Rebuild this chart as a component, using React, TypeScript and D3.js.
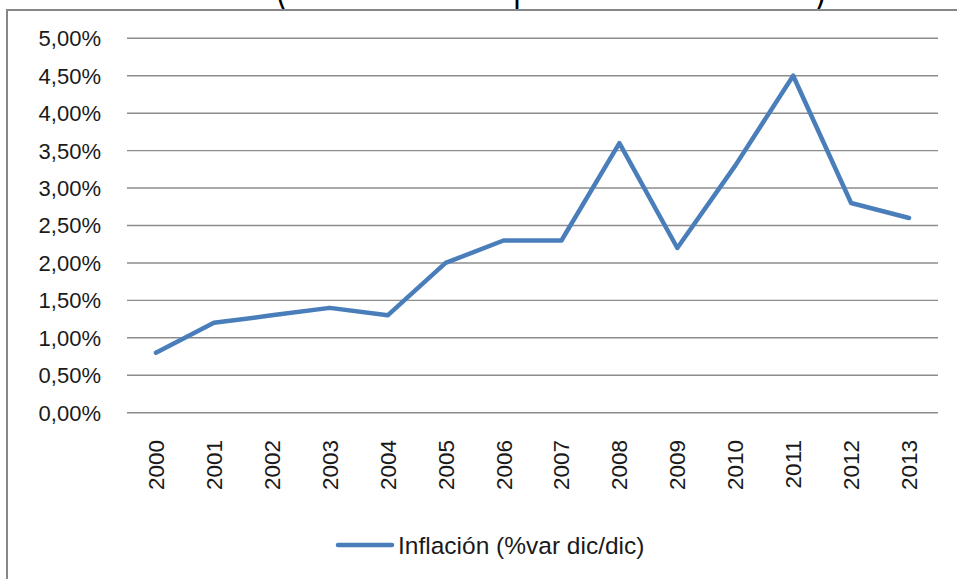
import React, { useEffect, useRef } from "react";
import * as d3 from "d3";

const years = ["2000","2001","2002","2003","2004","2005","2006","2007","2008","2009","2010","2011","2012","2013"];
const inflation = [0.8, 1.2, 1.3, 1.4, 1.3, 2.0, 2.3, 2.3, 3.6, 2.2, 3.3, 4.5, 2.8, 2.6];
const yTicks = [0, 0.5, 1, 1.5, 2, 2.5, 3, 3.5, 4, 4.5, 5];
const seriesName = "Inflación (%var dic/dic)";
const titleText = "(Variación de los precios al consumidor)";

const W = 957;
const H = 579;

export default function App() {
  const ref = useRef<SVGSVGElement>(null);

  useEffect(() => {
    const svg = d3.select(ref.current);
    svg.selectAll("*").remove();

    const font = "'Liberation Sans', Arial, sans-serif";

    // Title (cut off at the top, as in the reference: only descenders visible)
    svg.append("text")
      .attr("x", 275)
      .attr("y", -1.5)
      .attr("font-family", font)
      .attr("font-size", 54)
      .attr("fill", "#000")
      .attr("textLength", 552)
      .attr("lengthAdjust", "spacingAndGlyphs")
      .text(titleText);

    // Chart frame
    svg.append("rect")
      .attr("x", 7)
      .attr("y", 10)
      .attr("width", W + 20)
      .attr("height", H + 20)
      .attr("fill", "none")
      .attr("stroke", "#878787")
      .attr("stroke-width", 2);

    const x = d3.scalePoint<string>().domain(years).range([127, 938]).padding(0.5);
    const y = d3.scaleLinear().domain([0, 5]).range([412.7, 38.3]);

    // Gridlines
    svg.append("g")
      .selectAll("line")
      .data(yTicks)
      .join("line")
      .attr("x1", 127)
      .attr("x2", 938)
      .attr("y1", (d) => y(d))
      .attr("y2", (d) => y(d))
      .attr("stroke", "#8c8c8c")
      .attr("stroke-width", 1.4);

    // Y labels
    const fmt = (d: number) => d.toFixed(2).replace(".", ",") + "%";
    svg.append("g")
      .selectAll("text")
      .data(yTicks)
      .join("text")
      .attr("x", 101)
      .attr("y", (d) => y(d))
      .attr("dy", "0.36em")
      .attr("text-anchor", "end")
      .attr("font-family", font)
      .attr("font-size", 22)
      .attr("fill", "#1a1a1a")
      .text(fmt);

    // X labels
    svg.append("g")
      .selectAll("text")
      .data(years)
      .join("text")
      .attr("transform", (d) => `translate(${x(d)! + 8},440) rotate(-90)`)
      .attr("text-anchor", "end")
      .attr("font-family", font)
      .attr("font-size", 22.5)
      .attr("fill", "#1a1a1a")
      .text((d) => d);

    // Line
    const line = d3.line<number>()
      .x((_, i) => x(years[i])!)
      .y((d) => y(d));
    svg.append("path")
      .datum(inflation)
      .attr("d", line)
      .attr("fill", "none")
      .attr("stroke", "#4a7ebb")
      .attr("stroke-width", 4.5)
      .attr("stroke-linejoin", "round")
      .attr("stroke-linecap", "round");

    // Legend
    svg.append("line")
      .attr("x1", 338)
      .attr("x2", 392)
      .attr("y1", 545)
      .attr("y2", 545)
      .attr("stroke", "#4a7ebb")
      .attr("stroke-width", 4.5)
      .attr("stroke-linecap", "round");
    svg.append("text")
      .attr("x", 398)
      .attr("y", 545)
      .attr("dy", "0.36em")
      .attr("font-family", font)
      .attr("font-size", 24.5)
      .attr("fill", "#1a1a1a")
      .text(seriesName);
  }, []);

  return (
    <svg
      ref={ref}
      width={W}
      height={H}
      style={{ position: "absolute", left: 0, top: 0, display: "block", background: "#fff" }}
    />
  );
}
